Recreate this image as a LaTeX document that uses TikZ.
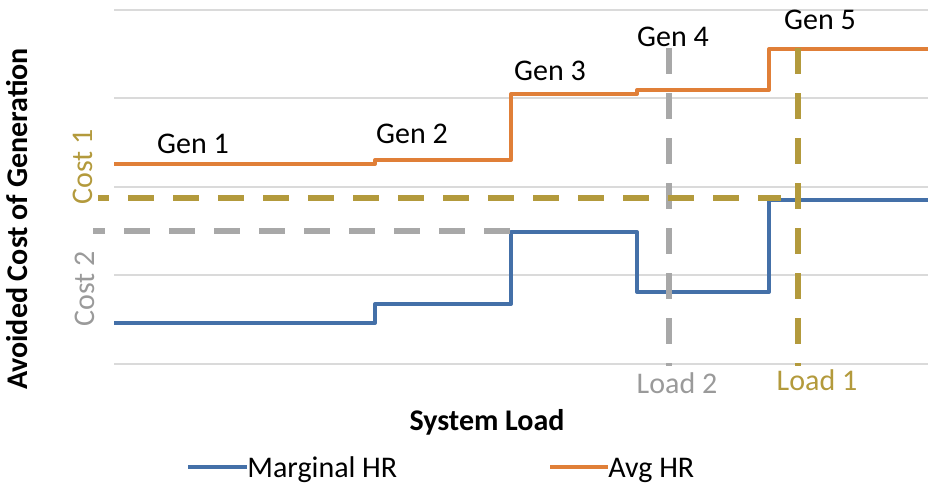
\documentclass[tikz,border=0pt]{standalone}
\usepackage{fontspec}
\setmainfont{Carlito}
\usepackage{tikz}
\definecolor{avgorange}{HTML}{E07F38}
\definecolor{margblue}{HTML}{4470A8}
\definecolor{costgold}{HTML}{B39A3C}
\definecolor{costgray}{HTML}{A8A8A8}
\definecolor{labelgray}{HTML}{9A9A9A}
\definecolor{gridgray}{HTML}{DADADA}

\begin{document}
\begin{tikzpicture}[x=0.5pt,y=-0.5pt]
    \tikzstyle{every node}=[font=\fontsize{15}{18}\selectfont,inner sep=0pt]
    \tikzstyle{grid line}=[draw=gridgray,line width=0.6pt]
    \tikzstyle{hr line}=[line width=2pt,line join=round]
    \tikzstyle{cost line}=[line width=2.8pt,dash pattern=on 12.75pt off 9.75pt]
    \tikzstyle{axis title}=[font=\fontsize{15}{18}\selectfont\bfseries]
    \useasboundingbox (0,0) rectangle (931,483);
    \foreach \y in {10,98,187,275,364}
      \draw[grid line] (114,\y) -- (928,\y);
    \draw[hr line,avgorange] (114,164) -- (375,164) -- (375,160) -- (511,160)
      -- (511,94) -- (637,94) -- (637,90) -- (769,90) -- (769,49) -- (928,49);
    \draw[hr line,margblue] (114,323) -- (375,323) -- (375,304) -- (511,304)
      -- (511,232) -- (637,232) -- (637,292) -- (769,292) -- (769,200) -- (928,200);
    \draw[cost line,costgray,dash phase=7pt] (93,231) -- (511,231);
    \draw[cost line,costgray] (669,48) -- (669,366);
    \draw[cost line,costgold,dash phase=7.5pt] (98,198) -- (781,198);
    \draw[cost line,costgold] (798,48) -- (798,366);
    \node[anchor=base] (gen1) at (193,153) {Gen 1};
    \node[anchor=base] (gen2) at (412,143) {Gen 2};
    \node[anchor=base] (gen3) at (550,80) {Gen 3};
    \node[anchor=base] (gen4) at (673,46) {Gen 4};
    \node[anchor=base] (gen5) at (820,29) {Gen 5};
    \node[anchor=base,text=labelgray] (load2) at (677,393) {Load 2};
    \node[anchor=base,text=costgold] (load1) at (817,390) {Load 1};
    \node[rotate=90,text=costgold] (cost1) at (83,167) {Cost 1};
    \node[rotate=90,text=labelgray] (cost2) at (85,289) {Cost 2};
    \node[axis title,rotate=90] (ytitle) at (17,219) {Avoided Cost of Generation};
    \node[axis title,anchor=base] (xtitle) at (487,430) {System Load};
    \coordinate (margkey) at (188,467);
    \node[anchor=base west] (marglabel) at (247,477) {Marginal HR};
    \draw[hr line,margblue] (margkey) -- (margkey -| marglabel.west);
    \coordinate (avgkey) at (550,467);
    \node[anchor=base west] (avglabel) at (608,477) {Avg HR};
    \draw[hr line,avgorange] (avgkey) -- (avgkey -| avglabel.west);
\end{tikzpicture}
\end{document}
